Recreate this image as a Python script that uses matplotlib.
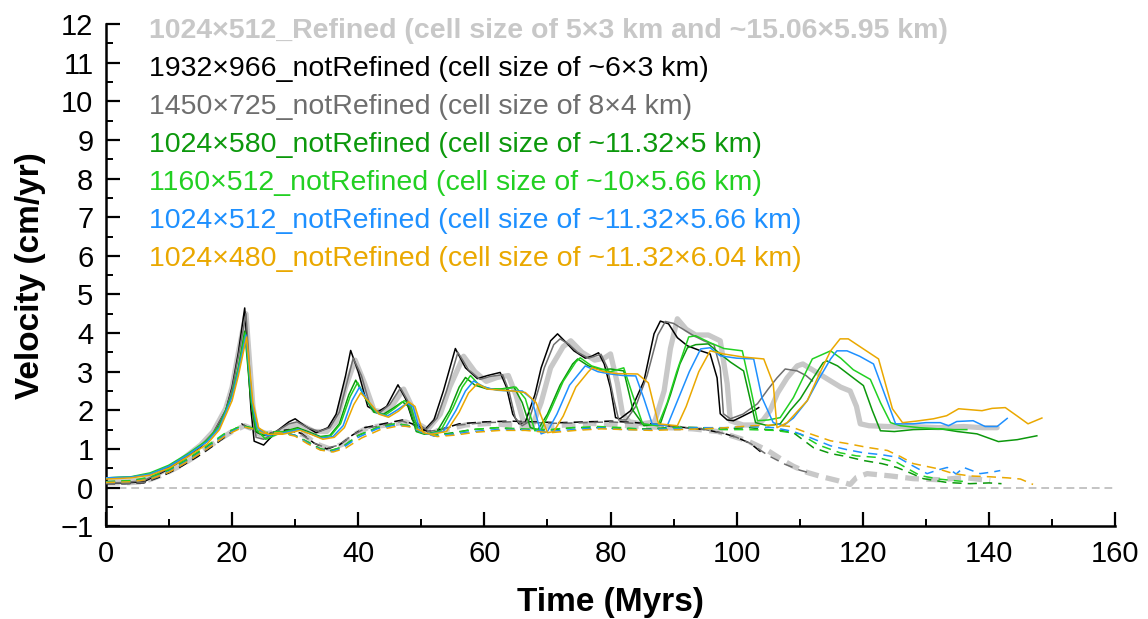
import matplotlib
matplotlib.use("Agg")
import matplotlib.pyplot as plt
from matplotlib import font_manager
import numpy as np

plt.rcParams['font.family'] = ['Liberation Sans', 'DejaVu Sans']

# narrow face for the series labels, if it is there
try:
    font_manager.findfont('Liberation Sans Narrow', fallback_to_default=False)
    label_family = ['Liberation Sans Narrow', 'DejaVu Sans']
    label_size = 24.5
except ValueError:
    label_family = ['Liberation Sans', 'DejaVu Sans']
    label_size = 20.5

# velocity series, (time in Myrs, velocity in cm/yr)
refined = [(0, 0.15), (3, 0.15), (6, 0.2), (9, 0.42), (12, 0.72), (15, 1.1), (17, 1.45), (19, 2.05), (20, 2.6),
           (21, 3.5), (22.2, 4.5), (23.3, 2.1), (24, 1.4), (25.5, 1.3), (27.5, 1.45), (29.5, 1.6), (31, 1.62),
           (33, 1.45), (35, 1.45), (36.5, 1.7), (38, 2.6), (39.5, 3.3), (41, 2.7), (42.5, 2.0), (44, 1.95),
           (45.5, 2.15), (47.2, 2.55), (48.5, 2.1), (49.5, 1.65), (51, 1.5), (53, 1.9), (54.5, 2.6), (56.7, 3.4),
           (58.5, 3.0), (60.3, 2.75), (62, 2.85), (63.8, 2.9), (65, 2.4), (66.2, 1.7), (67.5, 1.55), (69, 2.2),
           (70.5, 3.1), (72.5, 3.65), (73.7, 3.8), (75.5, 3.5), (77.5, 3.3), (79, 3.35), (80, 3.46), (81.1, 2.69),
           (81.9, 1.91), (83, 1.7), (85, 1.65), (87, 1.7), (88.5, 2.5), (89.5, 3.6), (90.6, 4.37), (92, 4.1),
           (93.5, 3.95), (95.5, 3.95), (97.4, 3.8), (98.5, 2.69), (99, 1.73), (101, 1.62), (103, 1.62),
           (104.2, 1.75), (105.3, 1.99), (106.5, 2.45), (108, 2.84), (109.6, 3.15), (110.5, 3.2), (112.5, 3.0),
           (114.9, 2.76), (116.5, 2.6), (118, 2.5), (119, 2.1), (119.6, 1.65), (121, 1.6), (124, 1.58),
           (128, 1.58), (132, 1.55), (136, 1.58), (139, 1.55), (141.3, 1.55)]
refined_d = [(0, 0.12), (3, 0.12), (6, 0.15), (9, 0.33), (12, 0.58), (15, 0.9), (18, 1.25), (20, 1.45), (22, 1.6),
             (23.5, 1.5), (25.5, 1.4), (27.5, 1.45), (29.5, 1.45), (31.5, 1.35), (33.5, 1.12), (35.5, 1.0),
             (37.5, 1.12), (39.5, 1.38), (41.5, 1.55), (44.5, 1.62), (47.5, 1.7), (49.5, 1.58), (51.5, 1.45),
             (54, 1.5), (57, 1.62), (61, 1.66), (65, 1.6), (69, 1.58), (73, 1.62), (77, 1.66), (81, 1.62),
             (85, 1.58), (89, 1.55), (93, 1.52), (97, 1.45), (99, 1.35), (101.7, 1.21), (104.9, 0.96),
             (107.4, 0.7), (109, 0.55), (111.2, 0.39), (113.5, 0.28), (116, 0.18), (117, 0.13), (118, 0.08),
             (119, 0.26), (120.7, 0.36), (124.4, 0.3), (128, 0.23), (132.3, 0.2), (136, 0.26), (140.2, 0.18)]

nr1932 = [(0, 0.12), (3, 0.12), (6, 0.15), (9, 0.4), (12, 0.7), (15, 1.05), (17, 1.4), (19, 2.0), (20, 2.6),
          (21, 3.5), (22, 4.65), (23, 2.0), (23.5, 1.2), (25, 1.1), (27, 1.45), (29, 1.7), (30, 1.78), (31.5, 1.6),
          (33.3, 1.42), (35.2, 1.55), (36.5, 1.9), (38, 2.9), (38.8, 3.55), (40, 3.0), (41.5, 2.1), (43, 1.95),
          (44.5, 2.1), (46.3, 2.66), (47.5, 2.3), (48.6, 1.75), (50.4, 1.47), (52, 1.75), (53.5, 2.5), (55.4, 3.6),
          (57, 3.1), (58.9, 2.82), (60.5, 2.9), (62.5, 2.98), (63.5, 2.6), (64.5, 1.9), (65.5, 1.65), (66.5, 1.7),
          (68, 2.4), (69, 3.1), (70.5, 3.8), (71.6, 3.98), (73, 3.75), (74.2, 3.54), (76, 3.35), (77, 3.4),
          (78.1, 3.49), (79, 3.2), (80, 2.58), (80.8, 1.81), (81.5, 1.78), (83.2, 1.99), (85.3, 2.76),
          (86.9, 3.98), (87.9, 4.31), (89.2, 4.24), (90.6, 3.88), (92.2, 3.67), (94.3, 3.54), (95.8, 3.46),
          (96.9, 2.84), (97.4, 1.91), (98.5, 1.75), (99.5, 1.73), (101, 1.85), (102.7, 1.99), (103.5, 2.07)]
nr1932_d = [(0, 0.1), (3, 0.1), (6, 0.12), (9, 0.3), (12, 0.55), (15, 0.85), (18, 1.2), (20, 1.45), (21.5, 1.65),
            (23, 1.5), (25, 1.35), (27, 1.45), (29, 1.5), (31, 1.4), (33, 1.15), (35, 1.0), (37, 1.1), (39, 1.35),
            (41, 1.55), (44, 1.65), (47, 1.75), (49, 1.62), (51, 1.45), (53, 1.5), (56, 1.65), (60, 1.7),
            (64, 1.72), (68, 1.7), (72, 1.68), (76, 1.7), (80, 1.72), (84, 1.68), (88, 1.62), (92, 1.55),
            (95, 1.5), (98, 1.4), (100, 1.3), (102.2, 1.14), (104, 0.9)]

nr1450 = [(0, 0.12), (3, 0.13), (6, 0.18), (9, 0.42), (12, 0.72), (15, 1.08), (17, 1.42), (19, 2.0), (20, 2.55),
          (21, 3.4), (22.2, 4.5), (23.2, 2.0), (23.8, 1.3), (25, 1.25), (27, 1.45), (29, 1.65), (30.3, 1.7),
          (32, 1.55), (33.8, 1.45), (35.5, 1.55), (37, 1.95), (38.5, 2.9), (39.2, 3.35), (40.5, 2.9), (42, 2.05),
          (43.5, 1.95), (45, 2.15), (46.7, 2.58), (48, 2.2), (49, 1.7), (50.8, 1.5), (52.5, 1.8), (54, 2.5),
          (55.8, 3.5), (57.5, 3.05), (59.3, 2.8), (61, 2.88), (62.9, 2.92), (63.9, 2.5), (64.9, 1.8), (66, 1.6),
          (67, 1.7), (68.5, 2.5), (69.5, 3.1), (71, 3.7), (72, 3.85), (73.5, 3.7), (74.8, 3.5), (76.5, 3.35),
          (78.5, 3.45), (79.5, 3.1), (80.5, 2.3), (81.3, 1.75), (82.5, 1.75), (84, 2.1), (85.8, 2.9),
          (87.5, 3.95), (88.7, 4.3), (90, 4.25), (91.1, 4.14), (93, 3.95), (94.8, 3.8), (96.4, 3.7), (97.4, 3.1),
          (97.9, 1.91), (99, 1.78), (101, 1.9), (103.3, 2.17), (105, 2.55), (106.4, 2.84), (107.7, 3.07),
          (109.6, 3.02), (111, 2.9), (112, 2.76)]
nr1450_d = [(0, 0.1), (3, 0.1), (6, 0.13), (9, 0.32), (12, 0.57), (15, 0.88), (18, 1.22), (20, 1.45),
            (21.8, 1.62), (23.3, 1.5), (25, 1.38), (27, 1.45), (29, 1.48), (31, 1.38), (33, 1.15), (35, 1.02),
            (37, 1.1), (39, 1.35), (41, 1.52), (44, 1.62), (47, 1.72), (49, 1.6), (51, 1.45), (53, 1.5), (56, 1.62),
            (60, 1.68), (64, 1.7), (68, 1.68), (72, 1.66), (76, 1.68), (80, 1.7), (84, 1.66), (88, 1.6), (92, 1.55),
            (95, 1.5), (98, 1.4), (100, 1.3), (102.2, 1.14), (105, 0.83), (107.7, 0.6), (110, 0.45), (112, 0.36)]

nr580 = [(0, 0.25), (4, 0.27), (7, 0.35), (10, 0.55), (13, 0.85), (16, 1.2), (18, 1.6), (20, 2.4), (21, 3.1),
         (22, 4.05), (23, 2.2), (23.8, 1.45), (25, 1.35), (27.5, 1.42), (30.4, 1.55), (32, 1.45), (34, 1.32),
         (35.5, 1.35), (37, 1.65), (38.5, 2.4), (39.6, 2.78), (41, 2.35), (42.5, 1.95), (44, 1.9), (45.5, 2.05),
         (47, 2.22), (48, 2.1), (49.2, 1.45), (50.5, 1.38), (52.5, 1.45), (54.5, 2.0), (56, 2.6), (57, 2.85),
         (58.5, 2.65), (60.5, 2.55), (62.5, 2.55), (64.7, 2.6), (66, 2.2), (67.3, 1.55), (68.5, 1.5), (70, 1.9),
         (72, 2.65), (74, 3.2), (74.8, 3.33), (76.5, 3.15), (78.5, 3.05), (80, 3.07), (82.1, 3.02), (83.6, 1.99),
         (85.3, 1.6), (87.9, 1.65), (89.5, 2.4), (91, 3.2), (92.2, 3.62), (93.5, 3.7), (95.5, 3.72), (97.4, 3.46),
         (99, 3.25), (101.1, 3.02), (103, 1.68), (105, 1.6), (106.9, 1.65), (108.5, 2.0), (110.1, 2.3), (112, 2.8),
         (113.7, 3.23), (114.3, 3.28), (116, 3.15), (118, 2.9), (120.1, 2.64), (121.5, 2.0), (122.8, 1.47),
         (125, 1.45), (128, 1.5), (132.3, 1.52), (135, 1.45), (138.1, 1.39), (141.5, 1.19), (144.5, 1.24),
         (147.6, 1.34)]
nr580_d = [(0, 0.15), (4, 0.17), (7, 0.25), (10, 0.45), (13, 0.72), (16, 1.05), (19, 1.4), (21.5, 1.6), (23, 1.55),
           (25, 1.4), (27.5, 1.45), (30, 1.35), (32, 1.18), (34, 1.0), (35.5, 0.95), (37.5, 1.05), (40, 1.35),
           (43, 1.55), (46, 1.65), (48, 1.6), (50, 1.45), (52, 1.35), (55, 1.42), (58, 1.5), (62, 1.55), (66, 1.5),
           (70, 1.48), (74, 1.55), (78, 1.55), (82, 1.52), (86, 1.52), (90, 1.56), (94, 1.55), (98, 1.52),
           (102, 1.55), (105, 1.5), (107, 1.48), (109, 1.42), (112.2, 1.03), (114.9, 0.88), (117.5, 0.8),
           (120.1, 0.7), (123, 0.62), (125.4, 0.52), (127.5, 0.38), (129.6, 0.23), (133.4, 0.13), (137, 0.1),
           (140, 0.12), (142, 0.1)]

nr1160 = [(0, 0.25), (4, 0.28), (7, 0.38), (10, 0.58), (13, 0.88), (16, 1.22), (18, 1.6), (20, 2.4), (21, 3.1),
          (22.1, 4.0), (23.1, 2.2), (23.9, 1.5), (25.3, 1.25), (27.7, 1.42), (30.4, 1.52), (32, 1.42), (34, 1.3),
          (35.7, 1.35), (37.2, 1.65), (38.7, 2.35), (39.9, 2.72), (41.2, 2.3), (42.8, 1.95), (44.3, 1.88),
          (45.8, 2.05), (47.3, 2.25), (48.3, 2.15), (49.5, 1.45), (50.8, 1.38), (53, 1.45), (55, 2.05), (56.5, 2.6),
          (57.8, 2.9), (59.2, 2.65), (61, 2.55), (63, 2.55), (65, 2.6), (66.5, 2.3), (68, 1.47), (69, 1.5),
          (70.5, 2.0), (72.5, 2.75), (74.5, 3.25), (75.2, 3.36), (77, 3.15), (79, 3.05), (80, 3.0), (82.1, 3.1),
          (83.5, 2.4), (85.1, 1.65), (87.5, 1.6), (89, 2.2), (90.5, 3.0), (92.4, 3.9), (93.5, 3.93), (95.8, 3.75),
          (98, 3.6), (100.9, 3.54), (102.2, 2.58), (103.3, 1.73), (105, 1.75), (106.9, 1.81), (109, 2.33),
          (112, 3.33), (114.9, 3.54), (116.5, 3.35), (118.5, 3.05), (121.2, 2.8), (122.8, 2.2), (124.4, 1.68),
          (126, 1.6), (129, 1.55), (132, 1.52), (134.5, 1.5), (136.5, 1.5)]
nr1160_d = [(0, 0.15), (4, 0.18), (7, 0.27), (10, 0.47), (13, 0.75), (16, 1.08), (19, 1.42), (21.5, 1.6), (23, 1.55),
            (25, 1.42), (27.5, 1.45), (30, 1.35), (32, 1.18), (34, 1.0), (35.5, 0.95), (37.5, 1.05), (40, 1.35),
            (43, 1.55), (46, 1.66), (48, 1.6), (50, 1.45), (52, 1.35), (55, 1.4), (58, 1.5), (62, 1.55),
            (66, 1.52), (70, 1.5), (74, 1.55), (78, 1.58), (82, 1.55), (86, 1.5), (90, 1.55), (94, 1.55),
            (98, 1.5), (102, 1.5), (106, 1.48), (110, 1.39), (113, 1.1), (116.4, 0.9), (119, 0.82), (122.3, 0.78),
            (125.4, 0.65), (127, 0.5), (129.1, 0.31), (132, 0.22), (134.4, 0.18), (136.5, 0.15)]

nr512 = [(0, 0.25), (4, 0.27), (7, 0.35), (10, 0.55), (13, 0.85), (16, 1.18), (18, 1.55), (20, 2.35), (21, 3.0),
         (22.2, 3.95), (23.2, 2.2), (24, 1.55), (25.5, 1.35), (27.8, 1.4), (30.6, 1.5), (32.3, 1.4), (34.2, 1.28),
         (36, 1.32), (37.6, 1.6), (39, 2.25), (40.2, 2.6), (41.5, 2.25), (43.1, 1.92), (44.6, 1.85), (46.1, 2.0),
         (47.7, 2.18), (48.7, 2.1), (49.8, 1.45), (51, 1.38), (53.5, 1.45), (55.5, 2.0), (57, 2.5), (58.3, 2.76),
         (60, 2.6), (62, 2.52), (64, 2.5), (66, 2.5), (67.5, 2.3), (69, 1.39), (70, 1.45), (71.5, 1.9),
         (73.5, 2.65), (75.5, 3.05), (76, 3.15), (78, 3.0), (80, 2.94), (82, 2.9), (84, 2.89), (85.3, 2.3),
         (86.6, 1.65), (89, 1.6), (90.5, 2.2), (92.5, 3.0), (94.3, 3.59), (95.8, 3.62), (97.4, 3.41), (100, 3.35),
         (102.7, 3.33), (104, 2.33), (105.8, 1.68), (107.4, 1.6), (109, 1.8), (111.2, 2.25), (113, 2.8),
         (114.9, 3.33), (115.9, 3.54), (117.5, 3.54), (119.5, 3.4), (121.7, 3.2), (123.5, 2.4), (125.2, 1.65),
         (128, 1.65), (130, 1.68), (132.3, 1.68), (133.6, 1.6), (134.9, 1.71), (137.5, 1.73), (139.4, 1.58),
         (141.3, 1.58), (142.9, 1.79)]
nr512_d = [(0, 0.13), (4, 0.15), (7, 0.23), (10, 0.42), (13, 0.7), (16, 1.02), (19, 1.38), (21.7, 1.58), (23, 1.52),
           (25, 1.4), (27.5, 1.42), (30, 1.35), (32, 1.15), (34, 0.98), (35.7, 0.93), (37.5, 1.02), (40, 1.3),
           (43, 1.52), (46, 1.62), (48, 1.58), (50, 1.45), (52, 1.33), (55, 1.38), (58, 1.45), (62, 1.5),
           (66, 1.5), (70, 1.45), (74, 1.5), (78, 1.55), (82, 1.5), (86, 1.5), (90, 1.52), (94, 1.55), (98, 1.55),
           (102, 1.58), (106, 1.55), (109, 1.45), (111.7, 1.29), (114.9, 1.08), (117.5, 0.98), (120.1, 0.9),
           (123, 0.85), (125.6, 0.78), (127.5, 0.6), (130.2, 0.36), (131.8, 0.45), (133.4, 0.52), (134.8, 0.35),
           (136, 0.52), (138.6, 0.36), (140.5, 0.4), (141.8, 0.44)]

nr480 = [(0, 0.22), (4, 0.25), (7, 0.32), (10, 0.5), (13, 0.8), (16, 1.12), (18, 1.5), (20, 2.25), (21, 2.9),
         (22.3, 3.9), (23.3, 2.2), (24.2, 1.55), (25.7, 1.38), (28, 1.38), (30.8, 1.48), (32.5, 1.38),
         (34.4, 1.25), (36.2, 1.3), (37.8, 1.55), (39.3, 2.15), (40.4, 2.45), (41.8, 2.2), (43.3, 1.9),
         (44.8, 1.82), (46.4, 1.98), (48, 2.22), (49, 2.1), (50.3, 1.42), (51.5, 1.38), (54, 1.45), (56, 1.95),
         (57.5, 2.45), (58.9, 2.69), (60.5, 2.55), (62.6, 2.52), (64.5, 2.5), (66.5, 2.46), (68.2, 2.2),
         (70, 1.42), (71, 1.45), (72.5, 1.85), (74.5, 2.6), (76.5, 3.0), (77.1, 3.1), (79, 3.0), (81, 2.95),
         (84.3, 2.94), (86, 2.71), (87.6, 1.65), (90.6, 1.6), (92, 2.1), (94, 3.0), (95.8, 3.54), (97.9, 3.46),
         (101, 3.38), (104.3, 3.33), (105.8, 2.69), (106.4, 1.55), (108, 1.68), (111.2, 2.25), (113, 2.9),
         (114.9, 3.54), (116.4, 3.85), (117.7, 3.85), (120, 3.6), (122.5, 3.33), (124.7, 2.04), (126.3, 1.68),
         (128.5, 1.72), (131.2, 1.78), (133.3, 1.86), (135.2, 2.04), (138.9, 1.99), (140.5, 2.05), (142.6, 2.07),
         (144.5, 1.85), (146.2, 1.65), (148.4, 1.8)]
nr480_d = [(0, 0.13), (4, 0.15), (7, 0.22), (10, 0.4), (13, 0.68), (16, 1.0), (19, 1.35), (21.8, 1.57),
           (23.2, 1.52), (25, 1.4), (27.5, 1.42), (30, 1.33), (32, 1.13), (34, 0.97), (36, 0.92), (38, 1.02),
           (40.5, 1.28), (43.5, 1.5), (46.5, 1.6), (48.5, 1.57), (50.5, 1.43), (52.5, 1.32), (55.5, 1.36),
           (58.5, 1.43), (62.5, 1.48), (66.5, 1.48), (70.5, 1.42), (74.5, 1.48), (78.5, 1.52), (82.5, 1.5),
           (86.5, 1.48), (90.5, 1.5), (94.5, 1.52), (98.5, 1.55), (102.5, 1.6), (106, 1.62), (108.5, 1.58),
           (111.5, 1.4), (114.9, 1.21), (117.5, 1.14), (120.7, 1.04), (123.9, 0.96), (126, 0.8), (128, 0.62),
           (131.8, 0.49), (134.4, 0.36), (137, 0.3), (140, 0.28), (143, 0.25), (145, 0.22), (147, 0.08)]

labels = ['1024\u00d7512_Refined (cell size of 5\u00d73 km and ~15.06\u00d75.95 km)',
          '1932\u00d7966_notRefined (cell size of ~6\u00d73 km)',
          '1450\u00d7725_notRefined (cell size of 8\u00d74 km)',
          '1024\u00d7580_notRefined (cell size of ~11.32\u00d75 km)',
          '1160\u00d7512_notRefined (cell size of ~10\u00d75.66 km)',
          '1024\u00d7512_notRefined (cell size of ~11.32\u00d75.66 km)',
          '1024\u00d7480_notRefined (cell size of ~11.32\u00d76.04 km)']
colors = ['#c8c8c8', '#000000', '#6e6e6e', '#0c980c', '#22d022', '#1e90ff', '#eaa800']
solid = [refined, nr1932, nr1450, nr580, nr1160, nr512, nr480]
dashed = [refined_d, nr1932_d, nr1450_d, nr580_d, nr1160_d, nr512_d, nr480_d]

fig = plt.figure(figsize=(11.48, 6.19), dpi=100)
ax = fig.add_axes([0.0923, 0.150, 0.8790, 0.811])

ax.plot([0, 160], [0, 0], color='#c4c4c4', lw=1.4, dashes=(4, 2.5), zorder=1)

for i, (s, d, c) in enumerate(zip(solid, dashed, colors)):
    ts, vs = np.array(s).T
    td, vd = np.array(d).T
    if i == 0:
        ax.plot(ts, vs, color=c, lw=3.8, solid_capstyle='round', zorder=2)
        ax.plot(td, vd, color=c, lw=3.8, dashes=(2.6, 1.4), zorder=2)
    else:
        ax.plot(ts, vs, color=c, lw=1.1, zorder=3)
        ax.plot(td, vd, color=c, lw=1.1, dashes=(6, 4), zorder=3)

for i, (lab, c) in enumerate(zip(labels, colors)):
    ax.text(0.0426, 0.987 - i * 0.0758, lab, color=c, fontsize=label_size, family=label_family,
            fontweight='bold' if i == 0 else 'normal', transform=ax.transAxes, va='center', ha='left')

ax.set_xlim(0, 160)
ax.set_ylim(-1, 12)
ax.set_xticks(np.arange(0, 161, 20))
ax.set_xticks(np.arange(0, 161, 10), minor=True)
ax.set_yticks(np.arange(-1, 13, 1))
ax.set_yticks(np.arange(-1, 12.1, 0.5), minor=True)
ax.set_yticklabels(['\u22121'] + [str(v) for v in range(0, 13)])
ax.tick_params(which='major', direction='in', length=10, width=1.6, labelsize=21)
ax.tick_params(axis='x', which='major', pad=10)
ax.tick_params(axis='y', which='major', pad=9)
ax.tick_params(which='minor', direction='in', length=5, width=1.4)
for side in ['top', 'right']:
    ax.spines[side].set_visible(False)
for side in ['left', 'bottom']:
    ax.spines[side].set_linewidth(1.8)

ax.set_xlabel('Time (Myrs)', fontsize=24, fontweight='bold', labelpad=14)
ax.set_ylabel('Velocity (cm/yr)', fontsize=24, fontweight='bold', labelpad=10)

fig.savefig('out.png', dpi=100)
